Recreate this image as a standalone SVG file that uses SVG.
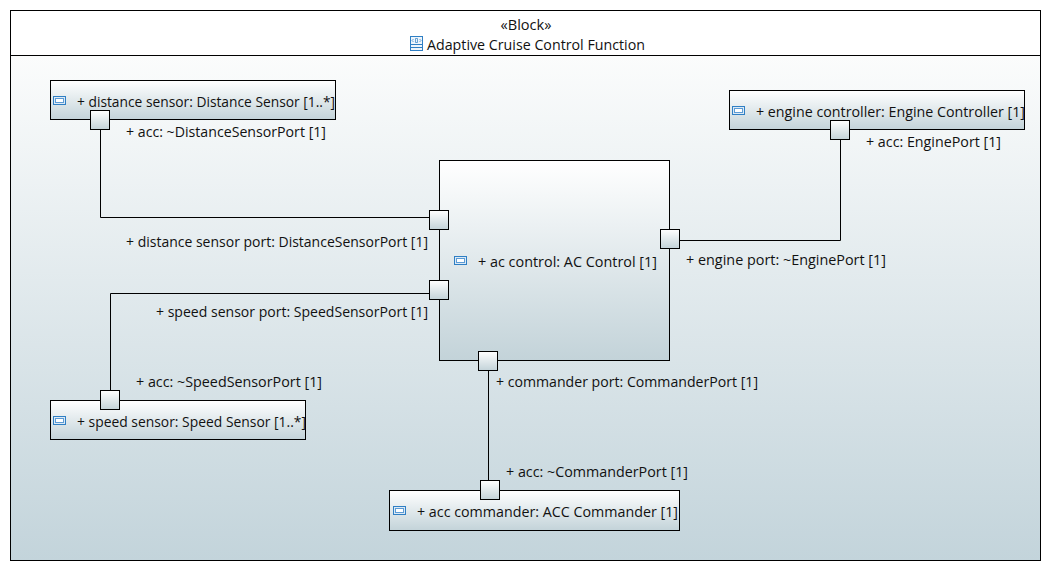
<svg xmlns="http://www.w3.org/2000/svg" width="1051" height="571" viewBox="0 0 1051 571">
<style>
text{font-family:"Open Sans","Noto Sans","Liberation Sans",sans-serif;font-size:14px;fill:#111}
.b{stroke:#000;stroke-width:1}
.node{fill:url(#g)}
.port{fill:url(#g);stroke:#000;stroke-width:1}
.frame{fill:url(#bg);stroke:#000;stroke-width:1}
.conn{fill:none;stroke:#000;stroke-width:1}
.ic{fill:#dbe9f5;stroke:#2f7fc4;stroke-width:1}
</style>
<defs>
<linearGradient id="g" x1="0" y1="0" x2="0" y2="1"><stop offset="0" stop-color="#ffffff"/><stop offset="1" stop-color="#c3d3d9"/></linearGradient>
<linearGradient id="bg" x1="0" y1="0" x2="0" y2="1"><stop offset="0" stop-color="#fbfcfc"/><stop offset="1" stop-color="#c3d4db"/></linearGradient>
<g id="icon"><rect x="0.5" y="0.5" width="12" height="8" class="ic"/><rect x="2.5" y="2.5" width="8" height="4" fill="#fff" stroke="#5b9bd5"/></g>
</defs>
<rect width="1051" height="571" fill="#fff"/>
<g id="frame">
<rect x="10.5" y="10.5" width="1030" height="550" fill="#fff" stroke="#000"/>
<rect x="10.5" y="55.5" width="1030" height="505" class="frame"/>
<text x="526" y="30" text-anchor="middle" textLength="51" lengthAdjust="spacingAndGlyphs">«Block»</text>
<g id="block-icon"><rect x="410.5" y="36.5" width="12" height="14" fill="#eef5fb" stroke="#2f7fc4"/><path d="M410.5 44.5h12M410.5 47.5h12" stroke="#2f7fc4" fill="none"/><path d="M413.5 39l-1.5 1.5 1.5 1.5M419.5 39l1.5 1.5-1.5 1.5M415.5 38.5v4h2v-4z" stroke="#2f7fc4" stroke-width=".7" fill="none"/></g>
<text x="427" y="50" textLength="218" lengthAdjust="spacingAndGlyphs">Adaptive Cruise Control Function</text>
</g>
<g id="connectors">
<path class="conn" d="M100.5 129V217.5H430"/>
<path class="conn" d="M110.5 391V293.5H430"/>
<path class="conn" d="M679 240.5H840.5V139"/>
<path class="conn" d="M488.5 370V481"/>
</g>
<g id="distance-sensor">
<rect class="node b" x="50.5" y="80.5" width="285" height="39"/>
<use href="#icon" x="53" y="96"/>
<text x="77" y="107" textLength="258" lengthAdjust="spacingAndGlyphs">+ distance sensor: Distance Sensor [1..*]</text>
<rect class="port" x="90.5" y="110.5" width="19" height="19"/>
<text x="126" y="137" textLength="200" lengthAdjust="spacingAndGlyphs">+ acc: ~DistanceSensorPort [1]</text>
</g>
<g id="engine-controller">
<rect class="node b" x="729.5" y="90.5" width="295" height="39"/>
<use href="#icon" x="732" y="106"/>
<text x="756" y="117" textLength="269" lengthAdjust="spacingAndGlyphs">+ engine controller: Engine Controller [1]</text>
<rect class="port" x="830.5" y="120.5" width="19" height="19"/>
<text x="866" y="147" textLength="135" lengthAdjust="spacingAndGlyphs">+ acc: EnginePort [1]</text>
</g>
<g id="ac-control">
<rect class="node b" x="439.5" y="160.5" width="230" height="200"/>
<use href="#icon" x="454" y="256"/>
<text x="478" y="267" textLength="179" lengthAdjust="spacingAndGlyphs">+ ac control: AC Control [1]</text>
<rect class="port" x="429.5" y="210.5" width="19" height="19"/>
<text x="126" y="247" textLength="302" lengthAdjust="spacingAndGlyphs">+ distance sensor port: DistanceSensorPort [1]</text>
<rect class="port" x="429.5" y="280.5" width="19" height="19"/>
<text x="156" y="317" textLength="272" lengthAdjust="spacingAndGlyphs">+ speed sensor port: SpeedSensorPort [1]</text>
<rect class="port" x="660.5" y="229.5" width="19" height="19"/>
<text x="686" y="265" textLength="200" lengthAdjust="spacingAndGlyphs">+ engine port: ~EnginePort [1]</text>
<rect class="port" x="478.5" y="351.5" width="19" height="19"/>
<text x="496" y="387" textLength="262" lengthAdjust="spacingAndGlyphs">+ commander port: CommanderPort [1]</text>
</g>
<g id="speed-sensor">
<rect class="node b" x="50.5" y="400.5" width="255" height="39"/>
<use href="#icon" x="53" y="416"/>
<text x="77" y="427" textLength="229" lengthAdjust="spacingAndGlyphs">+ speed sensor: Speed Sensor [1..*]</text>
<rect class="port" x="100.5" y="390.5" width="19" height="19"/>
<text x="136" y="387" textLength="186" lengthAdjust="spacingAndGlyphs">+ acc: ~SpeedSensorPort [1]</text>
</g>
<g id="acc-commander">
<rect class="node b" x="389.5" y="490.5" width="290" height="40"/>
<use href="#icon" x="393" y="506"/>
<text x="417" y="517" textLength="261" lengthAdjust="spacingAndGlyphs">+ acc commander: ACC Commander [1]</text>
<rect class="port" x="480.5" y="480.5" width="19" height="19"/>
<text x="506" y="477" textLength="182" lengthAdjust="spacingAndGlyphs">+ acc: ~CommanderPort [1]</text>
</g>
</svg>
